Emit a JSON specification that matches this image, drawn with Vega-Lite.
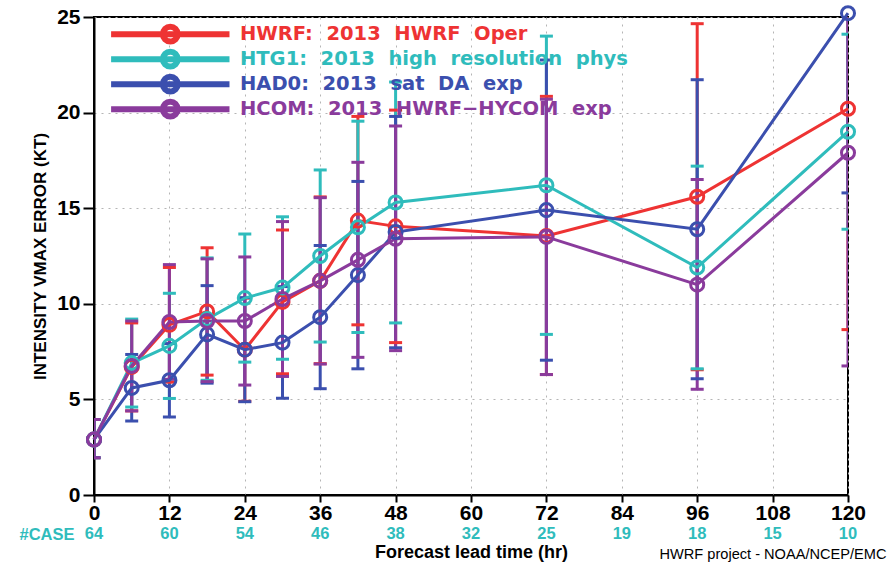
{
  "$schema": "https://vega.github.io/schema/vega-lite/v6.json",
  "background": "white",
  "padding": {"left": 18, "top": -1, "right": 0, "bottom": 0},
  "config": {
    "font": "Liberation Sans",
    "axis": {"labelFont": "Liberation Sans", "titleFont": "Liberation Sans", "labelColor": "black", "titleColor": "black", "labelFontWeight": "bold", "titleFontWeight": "bold"}
  },
  "title": {"text": "HWRF project - NOAA/NCEP/EMC", "orient": "bottom", "anchor": "end", "fontSize": 14.6, "fontWeight": "normal", "font": "Liberation Sans", "color": "black", "offset": -14, "dx": 20},
  "datasets": {
    "err": [
      {"series": "HWRF:\u00a0 2013\u00a0 HWRF\u00a0 Oper", "hr": 0, "val": 2.9, "lo": 1.95, "hi": 3.95},
      {"series": "HWRF:\u00a0 2013\u00a0 HWRF\u00a0 Oper", "hr": 6, "val": 6.7, "lo": 4.4, "hi": 9.0},
      {"series": "HWRF:\u00a0 2013\u00a0 HWRF\u00a0 Oper", "hr": 12, "val": 8.9, "lo": 5.9, "hi": 11.9},
      {"series": "HWRF:\u00a0 2013\u00a0 HWRF\u00a0 Oper", "hr": 18, "val": 9.6, "lo": 6.27, "hi": 12.93},
      {"series": "HWRF:\u00a0 2013\u00a0 HWRF\u00a0 Oper", "hr": 24, "val": 7.6, "lo": 4.9, "hi": 10.3},
      {"series": "HWRF:\u00a0 2013\u00a0 HWRF\u00a0 Oper", "hr": 30, "val": 10.1, "lo": 6.34, "hi": 13.86},
      {"series": "HWRF:\u00a0 2013\u00a0 HWRF\u00a0 Oper", "hr": 36, "val": 11.2, "lo": 6.87, "hi": 15.59},
      {"series": "HWRF:\u00a0 2013\u00a0 HWRF\u00a0 Oper", "hr": 42, "val": 14.35, "lo": 8.9, "hi": 19.8},
      {"series": "HWRF:\u00a0 2013\u00a0 HWRF\u00a0 Oper", "hr": 48, "val": 14.05, "lo": 7.97, "hi": 20.13},
      {"series": "HWRF:\u00a0 2013\u00a0 HWRF\u00a0 Oper", "hr": 72, "val": 13.55, "lo": 6.3, "hi": 20.85},
      {"series": "HWRF:\u00a0 2013\u00a0 HWRF\u00a0 Oper", "hr": 96, "val": 15.6, "lo": 6.55, "hi": 24.65},
      {"series": "HWRF:\u00a0 2013\u00a0 HWRF\u00a0 Oper", "hr": 120, "val": 20.2, "lo": 8.65, "hi": 31.75},
      {"series": "HTG1:\u00a0 2013\u00a0 high\u00a0 resolution\u00a0 phys", "hr": 0, "val": 2.9, "lo": 1.95, "hi": 3.95},
      {"series": "HTG1:\u00a0 2013\u00a0 high\u00a0 resolution\u00a0 phys", "hr": 6, "val": 6.9, "lo": 4.6, "hi": 9.2},
      {"series": "HTG1:\u00a0 2013\u00a0 high\u00a0 resolution\u00a0 phys", "hr": 12, "val": 7.8, "lo": 5.05, "hi": 10.55},
      {"series": "HTG1:\u00a0 2013\u00a0 high\u00a0 resolution\u00a0 phys", "hr": 18, "val": 9.2, "lo": 6.0, "hi": 12.4},
      {"series": "HTG1:\u00a0 2013\u00a0 high\u00a0 resolution\u00a0 phys", "hr": 24, "val": 10.3, "lo": 6.95, "hi": 13.65},
      {"series": "HTG1:\u00a0 2013\u00a0 high\u00a0 resolution\u00a0 phys", "hr": 30, "val": 10.85, "lo": 7.1, "hi": 14.55},
      {"series": "HTG1:\u00a0 2013\u00a0 high\u00a0 resolution\u00a0 phys", "hr": 36, "val": 12.5, "lo": 8.0, "hi": 17.0},
      {"series": "HTG1:\u00a0 2013\u00a0 high\u00a0 resolution\u00a0 phys", "hr": 42, "val": 14.0, "lo": 8.5, "hi": 19.55},
      {"series": "HTG1:\u00a0 2013\u00a0 high\u00a0 resolution\u00a0 phys", "hr": 48, "val": 15.3, "lo": 9.0, "hi": 21.6},
      {"series": "HTG1:\u00a0 2013\u00a0 high\u00a0 resolution\u00a0 phys", "hr": 72, "val": 16.2, "lo": 8.4, "hi": 24.0},
      {"series": "HTG1:\u00a0 2013\u00a0 high\u00a0 resolution\u00a0 phys", "hr": 96, "val": 11.9, "lo": 6.6, "hi": 17.2},
      {"series": "HTG1:\u00a0 2013\u00a0 high\u00a0 resolution\u00a0 phys", "hr": 120, "val": 19.0, "lo": 13.9, "hi": 24.1},
      {"series": "HAD0:\u00a0 2013\u00a0 sat\u00a0 DA\u00a0 exp", "hr": 0, "val": 2.9, "lo": 1.95, "hi": 3.95},
      {"series": "HAD0:\u00a0 2013\u00a0 sat\u00a0 DA\u00a0 exp", "hr": 6, "val": 5.6, "lo": 3.87, "hi": 7.35},
      {"series": "HAD0:\u00a0 2013\u00a0 sat\u00a0 DA\u00a0 exp", "hr": 12, "val": 6.0, "lo": 4.08, "hi": 7.92},
      {"series": "HAD0:\u00a0 2013\u00a0 sat\u00a0 DA\u00a0 exp", "hr": 18, "val": 8.4, "lo": 5.85, "hi": 10.95},
      {"series": "HAD0:\u00a0 2013\u00a0 sat\u00a0 DA\u00a0 exp", "hr": 24, "val": 7.6, "lo": 4.88, "hi": 10.32},
      {"series": "HAD0:\u00a0 2013\u00a0 sat\u00a0 DA\u00a0 exp", "hr": 30, "val": 7.97, "lo": 5.06, "hi": 10.9},
      {"series": "HAD0:\u00a0 2013\u00a0 sat\u00a0 DA\u00a0 exp", "hr": 36, "val": 9.3, "lo": 5.56, "hi": 13.05},
      {"series": "HAD0:\u00a0 2013\u00a0 sat\u00a0 DA\u00a0 exp", "hr": 42, "val": 11.5, "lo": 6.6, "hi": 16.4},
      {"series": "HAD0:\u00a0 2013\u00a0 sat\u00a0 DA\u00a0 exp", "hr": 48, "val": 13.75, "lo": 7.7, "hi": 19.8},
      {"series": "HAD0:\u00a0 2013\u00a0 sat\u00a0 DA\u00a0 exp", "hr": 72, "val": 14.9, "lo": 7.05, "hi": 22.75},
      {"series": "HAD0:\u00a0 2013\u00a0 sat\u00a0 DA\u00a0 exp", "hr": 96, "val": 13.9, "lo": 6.08, "hi": 21.72},
      {"series": "HAD0:\u00a0 2013\u00a0 sat\u00a0 DA\u00a0 exp", "hr": 120, "val": 25.2, "lo": 15.8, "hi": 34.6},
      {"series": "HCOM:\u00a0 2013\u00a0 HWRF\u2212HYCOM\u00a0 exp", "hr": 0, "val": 2.9, "lo": 1.95, "hi": 3.95},
      {"series": "HCOM:\u00a0 2013\u00a0 HWRF\u2212HYCOM\u00a0 exp", "hr": 6, "val": 6.75, "lo": 4.4, "hi": 9.1},
      {"series": "HCOM:\u00a0 2013\u00a0 HWRF\u2212HYCOM\u00a0 exp", "hr": 12, "val": 9.05, "lo": 6.05, "hi": 12.05},
      {"series": "HCOM:\u00a0 2013\u00a0 HWRF\u2212HYCOM\u00a0 exp", "hr": 18, "val": 9.1, "lo": 5.93, "hi": 12.35},
      {"series": "HCOM:\u00a0 2013\u00a0 HWRF\u2212HYCOM\u00a0 exp", "hr": 24, "val": 9.1, "lo": 5.75, "hi": 12.45},
      {"series": "HCOM:\u00a0 2013\u00a0 HWRF\u2212HYCOM\u00a0 exp", "hr": 30, "val": 10.25, "lo": 6.2, "hi": 14.3},
      {"series": "HCOM:\u00a0 2013\u00a0 HWRF\u2212HYCOM\u00a0 exp", "hr": 36, "val": 11.2, "lo": 6.85, "hi": 15.55},
      {"series": "HCOM:\u00a0 2013\u00a0 HWRF\u2212HYCOM\u00a0 exp", "hr": 42, "val": 12.3, "lo": 7.2, "hi": 17.4},
      {"series": "HCOM:\u00a0 2013\u00a0 HWRF\u2212HYCOM\u00a0 exp", "hr": 48, "val": 13.4, "lo": 7.55, "hi": 19.3},
      {"series": "HCOM:\u00a0 2013\u00a0 HWRF\u2212HYCOM\u00a0 exp", "hr": 72, "val": 13.5, "lo": 6.3, "hi": 20.7},
      {"series": "HCOM:\u00a0 2013\u00a0 HWRF\u2212HYCOM\u00a0 exp", "hr": 96, "val": 11.0, "lo": 5.53, "hi": 16.5},
      {"series": "HCOM:\u00a0 2013\u00a0 HWRF\u2212HYCOM\u00a0 exp", "hr": 120, "val": 17.9, "lo": 6.75, "hi": 29.05}
    ],
    "cases": [
      {"row": "#CASE", "hr": 0, "n": 64},
      {"row": "#CASE", "hr": 12, "n": 60},
      {"row": "#CASE", "hr": 24, "n": 54},
      {"row": "#CASE", "hr": 36, "n": 46},
      {"row": "#CASE", "hr": 48, "n": 38},
      {"row": "#CASE", "hr": 60, "n": 32},
      {"row": "#CASE", "hr": 72, "n": 25},
      {"row": "#CASE", "hr": 84, "n": 19},
      {"row": "#CASE", "hr": 96, "n": 18},
      {"row": "#CASE", "hr": 108, "n": 15},
      {"row": "#CASE", "hr": 120, "n": 10}
    ]
  },
  "spacing": 29,
  "bounds": "flush",
  "resolve": {"legend": {"color": "independent"}},
  "vconcat": [
    {
      "width": 754,
      "height": 478,
      "view": {"stroke": "black", "strokeWidth": 2},
      "data": {"name": "err"},
      "encoding": {
        "x": {"field": "hr", "type": "quantitative", "scale": {"domain": [0, 120], "nice": false},
          "axis": {"values": [0, 12, 24, 36, 48, 60, 72, 84, 96, 108, 120], "title": null, "labelFontSize": 21, "labelPadding": 0, "tickSize": 7, "tickWidth": 2, "tickColor": "black", "domainColor": "black", "domainWidth": 2, "grid": true, "gridDash": [2, 5], "gridColor": "#b5b5b5", "gridWidth": 1, "labelFlush": false}},
        "color": {"field": "series", "type": "nominal",
          "scale": {"domain": ["HWRF:\u00a0 2013\u00a0 HWRF\u00a0 Oper", "HTG1:\u00a0 2013\u00a0 high\u00a0 resolution\u00a0 phys", "HAD0:\u00a0 2013\u00a0 sat\u00a0 DA\u00a0 exp", "HCOM:\u00a0 2013\u00a0 HWRF\u2212HYCOM\u00a0 exp"], "range": ["#ee3333", "#2fbcbc", "#3b4fae", "#8a3b9c"]},
          "legend": {"orient": "none", "legendX": 14, "legendY": 5, "title": null, "padding": 0,
            "symbolType": "M-1,0L15,0M6,0A1,1,0,1,1,8,0A1,1,0,1,1,6,0", "symbolSize": 219, "symbolStrokeWidth": 6, "symbolFillColor": "transparent",
            "labelOffset": 111, "labelFont": "DejaVu Sans", "labelFontWeight": "bold", "labelFontSize": 19.5, "labelLimit": 700, "rowPadding": 0, "clipHeight": 24.3,
            "encode": {
              "symbols": {"update": {"fill": {"value": "transparent"}, "fillOpacity": {"value": 0}, "strokeWidth": {"value": 6}}},
              "labels": {"update": {"fill": {"signal": "['#ee3333','#2fbcbc','#3b4fae','#8a3b9c'][datum.index]"}}}
            }}}
      },
      "layer": [
        {"mark": {"type": "rule", "strokeWidth": 3, "clip": true},
         "encoding": {"y": {"field": "lo", "type": "quantitative", "title": "INTENSITY VMAX ERROR (KT)", "scale": {"domain": [0, 25], "nice": false},
            "axis": {"values": [0, 5, 10, 15, 20, 25], "labelFontSize": 21, "labelPadding": 3, "tickSize": 11, "tickWidth": 2, "tickColor": "black", "domainColor": "black", "domainWidth": 2, "grid": true, "gridDash": [2, 5], "gridColor": "#b5b5b5", "gridWidth": 1, "titleFontSize": 17, "titlePadding": 7, "labelFlush": false}},
           "y2": {"field": "hi"}}},
        {"mark": {"type": "tick", "orient": "horizontal", "size": 13, "thickness": 3, "clip": true, "opacity": 1},
         "encoding": {"y": {"field": "lo", "type": "quantitative", "title": "INTENSITY VMAX ERROR (KT)"}}},
        {"mark": {"type": "tick", "orient": "horizontal", "size": 13, "thickness": 3, "clip": true, "opacity": 1},
         "encoding": {"y": {"field": "hi", "type": "quantitative", "title": "INTENSITY VMAX ERROR (KT)"}}},
        {"mark": {"type": "line", "strokeWidth": 3},
         "encoding": {"y": {"field": "val", "type": "quantitative", "title": "INTENSITY VMAX ERROR (KT)"}}},
        {"mark": {"type": "point", "filled": false, "size": 170, "strokeWidth": 3, "opacity": 1},
         "encoding": {"y": {"field": "val", "type": "quantitative", "title": "INTENSITY VMAX ERROR (KT)"}}}
      ]
    },
    {
      "width": 754,
      "height": 20,
      "view": {"stroke": null},
      "data": {"name": "cases"},
      "mark": {"type": "text", "fontSize": 16.5, "fontWeight": "bold", "color": "#2fbcbc", "baseline": "middle", "font": "Liberation Sans"},
      "encoding": {
        "x": {"field": "hr", "type": "quantitative", "scale": {"domain": [0, 120], "nice": false},
          "axis": {"labels": false, "ticks": false, "domain": false, "grid": false, "title": "Forecast lead time (hr)", "titleFontSize": 18, "titlePadding": -1}},
        "y": {"field": "row", "type": "nominal", "title": null,
          "axis": {"ticks": false, "domain": false, "grid": false, "labelColor": "#2fbcbc", "labelFontSize": 16.5, "labelPadding": 20}},
        "text": {"field": "n", "type": "quantitative"}
      }
    }
  ]
}
